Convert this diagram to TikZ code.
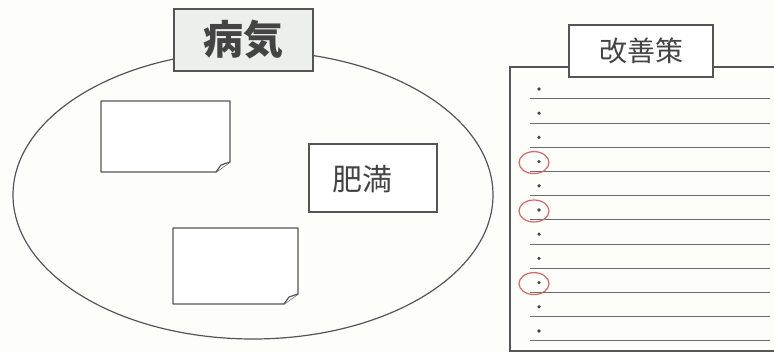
\documentclass[tikz,border=0pt]{standalone}
\usepackage{fontspec}
\newfontfamily\jp{Noto Sans CJK JP}
\usetikzlibrary{shapes.geometric}
\definecolor{linegray}{HTML}{555555}
\definecolor{rulegray}{HTML}{6A6A6A}
\definecolor{bgcol}{HTML}{FDFDF9}
\definecolor{titlefill}{HTML}{EDEFEC}
\definecolor{redc}{HTML}{D06868}
\definecolor{textgray}{HTML}{444444}
\begin{document}
\begin{tikzpicture}[x=1pt,y=-1pt,
  outline/.style={draw=linegray, line width=1.2pt},
  boxstyle/.style={outline, rectangle, inner sep=0pt, fill=white},
  notestyle/.style={outline, fill=white, line join=round},
  rulestyle/.style={draw=rulegray, line width=1pt},
  bulletstyle/.style={fill=textgray},
  markcircle/.style={draw=redc, line width=1.2pt}]
\useasboundingbox (0,0) rectangle (774,352);
\fill[bgcol] (0,0) rectangle (774,352);

% left: disease ellipse
\node[outline, ellipse, minimum width=480pt, minimum height=288pt, inner sep=0pt] (disease) at (253,195) {};
\node[boxstyle, fill=titlefill, line width=1.5pt, minimum width=139pt, minimum height=62pt, text=textgray]
  (diseasetitle) at (243.5,40) {\jp\bfseries\fontsize{40}{44}\selectfont 病気};

% sticky notes
\coordinate (n1tl) at (101,101);
\draw[notestyle] (n1tl) -- ++(129,0) -- ++(0,61) -- ++(-14,10) -- ++(-115,0) -- cycle;
\draw[notestyle] (230,162) -- (221,165) -- (216,172);
\coordinate (n2tl) at (173,228);
\draw[notestyle] (n2tl) -- ++(125,0) -- ++(0,66) -- ++(-14,10) -- ++(-111,0) -- cycle;
\draw[notestyle] (298,294) -- (289,297) -- (284,304);

% obesity box
\node[boxstyle, minimum width=128pt, minimum height=68pt] (obesity) at (373,178) {};
\node[text=textgray] (obesitytext) at ([xshift=-11pt,yshift=-1pt]obesity.center) {\jp\fontsize{30}{34}\selectfont 肥満};

% right: improvement list
\coordinate (pnltr) at (774,67);
\coordinate (pnlbr) at (774,351);
\draw[outline, line width=1.5pt] (pnltr) -- (510,67) -- (510,351) -- (pnlbr);
\node[boxstyle, minimum width=144pt, minimum height=52pt, text=textgray]
  (improvetitle) at (641,51) {\jp\fontsize{28}{32}\selectfont 改善策};

\foreach \i in {0,...,10} {
  \draw[rulestyle] (530,99+24.2*\i) -- (770,99+24.2*\i);
  \fill[bulletstyle] (539,89+24.2*\i) circle (1.8pt);
}
\foreach \i in {3,5,8} {
  \draw[markcircle] (534,90+24.2*\i) ellipse (15pt and 11pt);
}
\end{tikzpicture}
\end{document}
